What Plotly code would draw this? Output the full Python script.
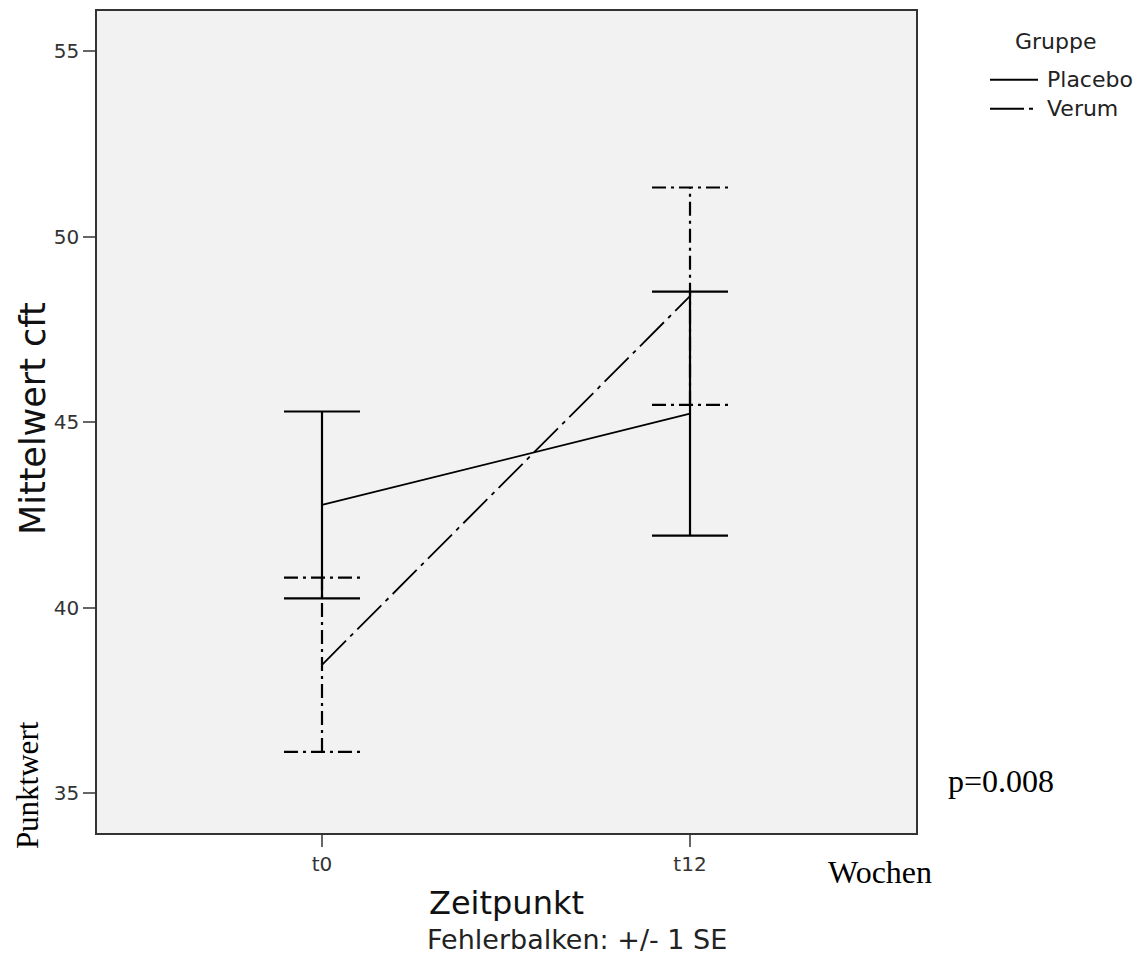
import plotly.graph_objects as go

# ---- data ----
timepoints = ["t0", "t12"]
groups = ["Placebo", "Verum"]
placebo_mean = [42.77, 45.23]
placebo_se = [2.52, 3.29]
verum_mean = [38.46, 48.40]
verum_se = [2.35, 2.93]
y_ticks = [35, 40, 45, 50, 55]

# ---- layout constants (page pixels; the page body has an 8px margin) ----
OFF = 8
W, H = 1133, 952
PLOT_L, PLOT_R, PLOT_T, PLOT_B = 97, 916, 9, 833   # plot frame in page coords
L = PLOT_L - OFF
T = PLOT_T - OFF
R = W - (PLOT_R - OFF)
B = H - (PLOT_B - OFF)
PW, PH = PLOT_R - PLOT_L, PLOT_B - PLOT_T

def px_x(px):
    return (px - PLOT_L) / PW

def px_y(py):
    return (PLOT_B - py) / PH

SANS = "DejaVu Sans"
SERIF = "Liberation Serif"
CAP = 0.1033  # cap half-width in category units

xpos = list(range(len(timepoints)))

def errbar_paths(means, ses):
    xs, ys = [], []
    for xi, m, s in zip(xpos, means, ses):
        lo, hi = m - s, m + s
        xs += [xi, xi, None, xi - CAP, xi + CAP, None, xi - CAP, xi + CAP, None]
        ys += [lo, hi, None, hi, hi, None, lo, lo, None]
    return xs, ys

DASH_LINE = "34px,6px,4px,6px"
DASH_ERR = "14px,5px,3px,5px"

fig = go.Figure()

# error bars
xs, ys = errbar_paths(placebo_mean, placebo_se)
fig.add_trace(go.Scatter(x=xs, y=ys, mode="lines", line=dict(color="black", width=2.2),
                         showlegend=False, hoverinfo="skip"))
xs, ys = errbar_paths(verum_mean, verum_se)
fig.add_trace(go.Scatter(x=xs, y=ys, mode="lines", line=dict(color="black", width=2.2, dash=DASH_ERR),
                         showlegend=False, hoverinfo="skip"))

# mean lines
fig.add_trace(go.Scatter(x=xpos, y=placebo_mean, mode="lines", name=groups[0],
                         line=dict(color="black", width=1.8), showlegend=False))
fig.add_trace(go.Scatter(x=xpos, y=verum_mean, mode="lines", name=groups[1],
                         line=dict(color="black", width=1.8, dash=DASH_LINE), showlegend=False))

# manual legend
shapes = [
    dict(type="line", xref="paper", yref="paper", x0=px_x(990), x1=px_x(1038), y0=px_y(78), y1=px_y(78),
         line=dict(color="black", width=2)),
    dict(type="line", xref="paper", yref="paper", x0=px_x(990), x1=px_x(1038), y0=px_y(107), y1=px_y(107),
         line=dict(color="black", width=2, dash="34px,5px,4px,20px")),
]

annotations = [
    dict(text="Gruppe", x=px_x(1056), y=px_y(40), xref="paper", yref="paper", showarrow=False,
         xanchor="center", yanchor="middle", font=dict(family=SANS, size=22, color="#222")),
    dict(text=groups[0], x=px_x(1045), y=px_y(78), xref="paper", yref="paper", showarrow=False,
         xanchor="left", yanchor="middle", font=dict(family=SANS, size=22, color="#222")),
    dict(text=groups[1], x=px_x(1045), y=px_y(107), xref="paper", yref="paper", showarrow=False,
         xanchor="left", yanchor="middle", font=dict(family=SANS, size=22, color="#222")),
    # axis titles
    dict(text="Mittelwert cft", x=px_x(33), y=px_y(418), xref="paper", yref="paper", showarrow=False,
         textangle=-90, xanchor="center", yanchor="middle", font=dict(family=SANS, size=35, color="#111")),
    dict(text="Zeitpunkt", x=px_x(506), y=px_y(903), xref="paper", yref="paper", showarrow=False,
         xanchor="center", yanchor="middle", font=dict(family=SANS, size=32, color="#111")),
    dict(text="Fehlerbalken: +/- 1 SE", x=px_x(577), y=px_y(940), xref="paper", yref="paper", showarrow=False,
         xanchor="center", yanchor="middle", font=dict(family=SANS, size=27, color="#222")),
    # serif overlays
    dict(text="Punktwert", x=px_x(27), y=px_y(785), xref="paper", yref="paper", showarrow=False,
         textangle=-90, xanchor="center", yanchor="middle", font=dict(family=SERIF, size=31, color="black")),
    dict(text="p=0.008", x=px_x(946), y=px_y(781), xref="paper", yref="paper", showarrow=False,
         xanchor="left", yanchor="middle", font=dict(family=SERIF, size=32, color="black")),
    dict(text="Wochen", x=px_x(826), y=px_y(872), xref="paper", yref="paper", showarrow=False,
         xanchor="left", yanchor="middle", font=dict(family=SERIF, size=32, color="black")),
]

fig.update_layout(
    width=W, height=H,
    margin=dict(l=L, r=R, t=T, b=B, pad=0),
    paper_bgcolor="white",
    plot_bgcolor="#f2f2f2",
    shapes=shapes,
    annotations=annotations,
    showlegend=False,
)

fig.update_xaxes(
    range=[-0.6114, 1.6141],
    tickvals=xpos, ticktext=timepoints,
    showgrid=False, zeroline=False,
    showline=True, mirror=True, linecolor="#333", linewidth=1.5,
    ticks="outside", ticklen=12, tickcolor="#666", tickwidth=1.5,
    tickfont=dict(family=SANS, size=20, color="#333"),
)
fig.update_yaxes(
    range=[33.924, 56.089],
    tickvals=y_ticks,
    showgrid=False, zeroline=False,
    showline=True, mirror=True, linecolor="#333", linewidth=1.5,
    ticks="outside", ticklen=12, tickcolor="#666", tickwidth=1.5,
    tickfont=dict(family=SANS, size=20, color="#333"),
)

fig.write_html("out.html")
